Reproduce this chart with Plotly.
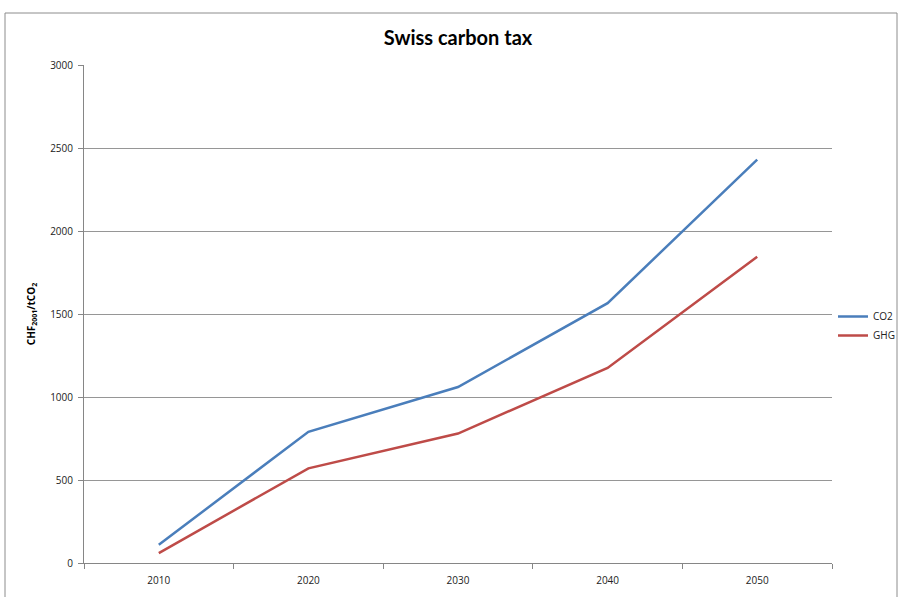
import plotly.graph_objects as go

years = ["2010", "2020", "2030", "2040", "2050"]
co2 = [110, 790, 1060, 1565, 2430]
ghg = [60, 570, 780, 1175, 1845]
y_ticks = [0, 500, 1000, 1500, 2000, 2500, 3000]

W, H = 899, 597
L, R, T, B = 84, 67, 65, 34
pw, ph = W - L - R, H - T - B

fig = go.Figure()
fig.add_trace(go.Scatter(x=years, y=co2, mode="lines", name="CO2",
                         line=dict(color="#4A7EBB", width=2.5)))
fig.add_trace(go.Scatter(x=years, y=ghg, mode="lines", name="GHG",
                         line=dict(color="#BE4B48", width=2.5)))

def px_x(x):
    return (x - L) / pw

def px_y(y):
    return (H - B - y) / ph

fig.add_shape(type="rect", xref="paper", yref="paper",
              x0=px_x(5), x1=px_x(897), y0=px_y(605), y1=px_y(13),
              line=dict(color="#8c8c8c", width=1), fillcolor="rgba(0,0,0,0)")

fig.update_layout(
    width=W, height=H,
    margin=dict(l=L, r=R, t=T, b=B, autoexpand=False),
    paper_bgcolor="white", plot_bgcolor="white",
    font=dict(family="Open Sans, Lato, sans-serif", size=10, color="#222"),
    title=dict(text="<b>Swiss carbon tax</b>", x=0.5, xref="paper",
               y=1 - 38 / H, yref="container", yanchor="middle", xanchor="center",
               font=dict(size=20, color="#000", family="Lato, Open Sans, sans-serif")),
    showlegend=True,
    legend=dict(x=px_x(900), y=px_y(326), xanchor="right", yanchor="middle",
                font=dict(size=10, color="#222"),
                bgcolor="rgba(0,0,0,0)", itemwidth=30),
    xaxis=dict(type="category", range=[-0.5, 4.5], tickson="boundaries",
               ticks="outside", ticklen=5, tickcolor="#868686",
               showline=True, linecolor="#868686", linewidth=1,
               showgrid=False, zeroline=False, tickfont=dict(size=10),
               ticklabelstandoff=8),
    yaxis=dict(range=[0, 3000], tickvals=y_ticks, ticks="outside", ticklen=5,
               tickcolor="#868686", showline=True, linecolor="#868686",
               linewidth=1, showgrid=True, gridcolor="#969696", gridwidth=1,
               zeroline=False, tickfont=dict(size=10), ticklabelstandoff=3,
               title=dict(text="<b>CHF<sub>2001</sub>/tCO<sub>2</sub></b>",
                          font=dict(size=10, color="#000"), standoff=12)),
)

fig.write_html("out.html")
